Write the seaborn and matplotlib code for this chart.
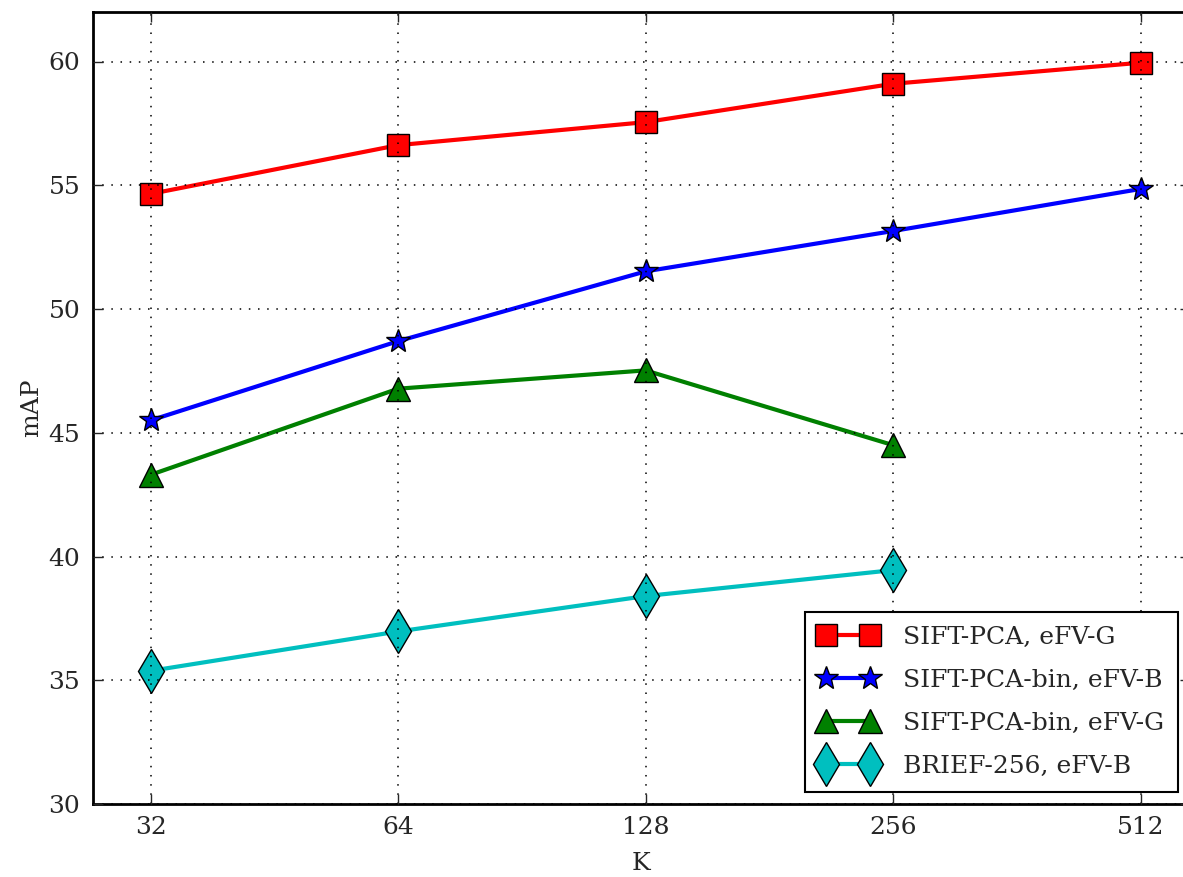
import matplotlib
matplotlib.use("Agg")
import matplotlib.pyplot as plt
import numpy as np
import pandas as pd
import seaborn as sns

# codebook sizes and mAP values per method
k_values = [32, 64, 128, 256, 512]
sift_pca_efvg = [54.65, 56.62, 57.55, 59.1, 59.95]
sift_bin_efvb = [45.5, 48.7, 51.52, 53.15, 54.85]
sift_bin_efvg = [43.3, 46.78, 47.52, 44.5]
brief_efvb = [35.38, 36.97, 38.4, 39.45]

series = [
    ("SIFT-PCA, eFV-G", sift_pca_efvg, "r", "s", 16),
    ("SIFT-PCA-bin, eFV-B", sift_bin_efvb, "b", "*", 18),
    ("SIFT-PCA-bin, eFV-G", sift_bin_efvg, "g", "^", 17),
    ("BRIEF-256, eFV-B", brief_efvb, "c", "d", 22),
]

sns.set_style("ticks")
plt.rcParams["font.family"] = ["DejaVu Serif"]
plt.rcParams["font.size"] = 18

fig = plt.figure(figsize=(11.83, 8.77), dpi=100)
ax = fig.add_axes([92.7 / 1183, 1 - 804 / 877, (1190 - 92.7) / 1183, (804 - 12) / 877])

for label, vals, color, marker, ms in series:
    df = pd.DataFrame({"pos": np.arange(len(vals)), "mAP": vals})
    sns.lineplot(
        data=df, x="pos", y="mAP", ax=ax, color=color, marker=marker,
        markersize=ms, markeredgecolor="black", markeredgewidth=1,
        linewidth=3, label=label, zorder=2,
    )

ax.set_xlim(-0.234, 4.2)
ax.set_ylim(30, 62)
ax.set_xticks(np.arange(len(k_values)))
ax.set_xticklabels([str(k) for k in k_values])
ax.set_yticks(np.arange(30, 61, 5))
ax.set_xlabel("K", labelpad=9)
ax.set_ylabel("mAP", labelpad=4)
ax.set_axisbelow(False)
ax.grid(True, color="black", linestyle=(0, (1, 5)), linewidth=1.1)
ax.tick_params(direction="in", length=7, width=1, top=True, right=True, pad=9)
for s in ax.spines.values():
    s.set_linewidth(2)
    s.set_color("black")

leg = ax.legend(loc="lower right", numpoints=2, fancybox=False, framealpha=1,
                edgecolor="black", borderaxespad=0.5, handlelength=2.35,
                handletextpad=1.0, labelspacing=0.8, borderpad=0.55)
leg.get_frame().set_linewidth(1.5)

fig.savefig("out.png", dpi=100)
